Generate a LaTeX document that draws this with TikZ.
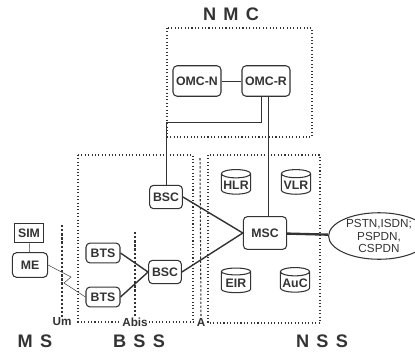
\documentclass[tikz,border=0pt]{standalone}
\usepackage{fontspec}
\setmainfont{Liberation Sans}
\usepackage{tikz}
\usetikzlibrary{shapes.geometric}

\tikzset{
    unit/.style = {draw, rounded corners = 3.5pt, line width = 0.9pt,
        font = \bfseries\fontsize{10.5}{11}\selectfont, inner sep = 1pt},
    card/.style = {draw, line width = 0.9pt,
        font = \bfseries\fontsize{10.5}{11}\selectfont, inner sep = 1pt,
        minimum width = 24pt, minimum height = 17pt},
    db/.style = {cylinder, shape border rotate = 90, draw, aspect = 0.3,
        line width = 0.9pt, font = \bfseries\fontsize{10.5}{11}\selectfont,
        inner sep = 1pt, minimum width = 25pt, minimum height = 21pt},
    area/.style = {dotted, line width = 0.9pt},
    iface/.style = {dash pattern = on 2pt off 1.5pt, line width = 0.9pt},
    tag/.style = {font = \bfseries\fontsize{10}{11}\selectfont, fill = white, inner sep = 1pt},
    head/.style = {font = \bfseries\fontsize{15.5}{16}\selectfont},
    link/.style = {line width = 1.2pt}
}

\begin{document}
\begin{tikzpicture} [x = 0.03cm, y = -0.03cm, black!80]
    \useasboundingbox (0, 0) rectangle (415, 354);

    % areas
    \draw[area] (167, 28) rectangle (312, 137);
    \draw[area] (78, 155) -- (193, 155) -- (193, 322);
    \draw[area] (78, 155) -- (78, 322) -- (200, 322);
    \draw[area] (208, 155) rectangle (320, 323);
    \node[head] (nmc) at (231, 14) {N\hspace{0.4em}M\hspace{0.4em}C};
    \node[head] (ms) at (35, 341) {M\hspace{0.4em}S};
    \node[head] (bss) at (139, 341) {B\hspace{0.4em}S\hspace{0.4em}S};
    \node[head] (nss) at (322, 341) {N\hspace{0.4em}S\hspace{0.4em}S};

    % interfaces
    \coordinate (umtop) at (62, 225);
    \coordinate (abistop) at (135, 232);
    \coordinate (atop) at (200, 158);
    \node[tag] (um) at (62, 322) {Um};
    \node[tag] (abis) at (135, 322) {Abis};
    \node[tag] (a) at (201, 322) {A};
    \draw[iface] (umtop) -- (um.north);
    \draw[iface] (abistop) -- (abis.north);
    \draw[iface] (atop) -- (a.north);

    % NMC
    \node[unit, minimum width = 41pt, minimum height = 26pt] (omcn) at (197, 81) {OMC-N};
    \node[unit, minimum width = 41pt, minimum height = 26pt] (omcr) at (266, 81) {OMC-R};

    % MS
    \node[card] (sim) at (29, 233) {SIM};
    \node[unit, minimum width = 30pt, minimum height = 21pt] (me) at (30, 265) {ME};

    % BSS
    \node[unit, minimum width = 28pt, minimum height = 20pt] (bsc1) at (166, 197) {BSC};
    \node[unit, minimum width = 28pt, minimum height = 20pt] (bsc2) at (165, 272) {BSC};
    \node[unit, minimum width = 29pt, minimum height = 17pt] (bts1) at (103, 253) {BTS};
    \node[unit, minimum width = 29pt, minimum height = 17pt] (bts2) at (103, 297) {BTS};

    % NSS
    \node[unit, minimum width = 37pt, minimum height = 28pt] (msc) at (265, 233) {MSC};
    \node[db] (hlr) at (236, 185) {HLR};
    \node[db] (vlr) at (296, 185) {VLR};
    \node[db] (eir) at (236, 283) {EIR};
    \node[db] (auc) at (295, 283) {AuC};
    \node[ellipse, draw, line width = 0.9pt, inner sep = 0pt, minimum width = 86pt,
        minimum height = 39pt, align = center,
        font = \fontsize{10}{10.5}\selectfont] (net) at (379, 236)
        {PSTN,ISDN;\\PSPDN,\\CSPDN};

    % links
    \draw (sim) -- (me);
    \draw (me.east) -- (71, 277) -- (64, 283) -- (bts2.west);
    \draw[link] (bts1.east) -- (bsc2.west);
    \draw[link] (bts2.east) -- (bsc2.west);
    \draw[link] (bsc1.east) -- (msc.west);
    \draw[link] (bsc2.east) -- (msc.west);
    \draw[line width = 2pt] (msc) -- (net);
    \draw (omcn) -- (omcr);
    \draw ([xshift = -4pt]omcr.south) |- (bsc1.north |- 0, 122) -- (bsc1.north);
    \draw ([xshift = 2pt]omcr.south) -- ([xshift = 2pt]omcr.south |- msc.north);
\end{tikzpicture}
\end{document}
